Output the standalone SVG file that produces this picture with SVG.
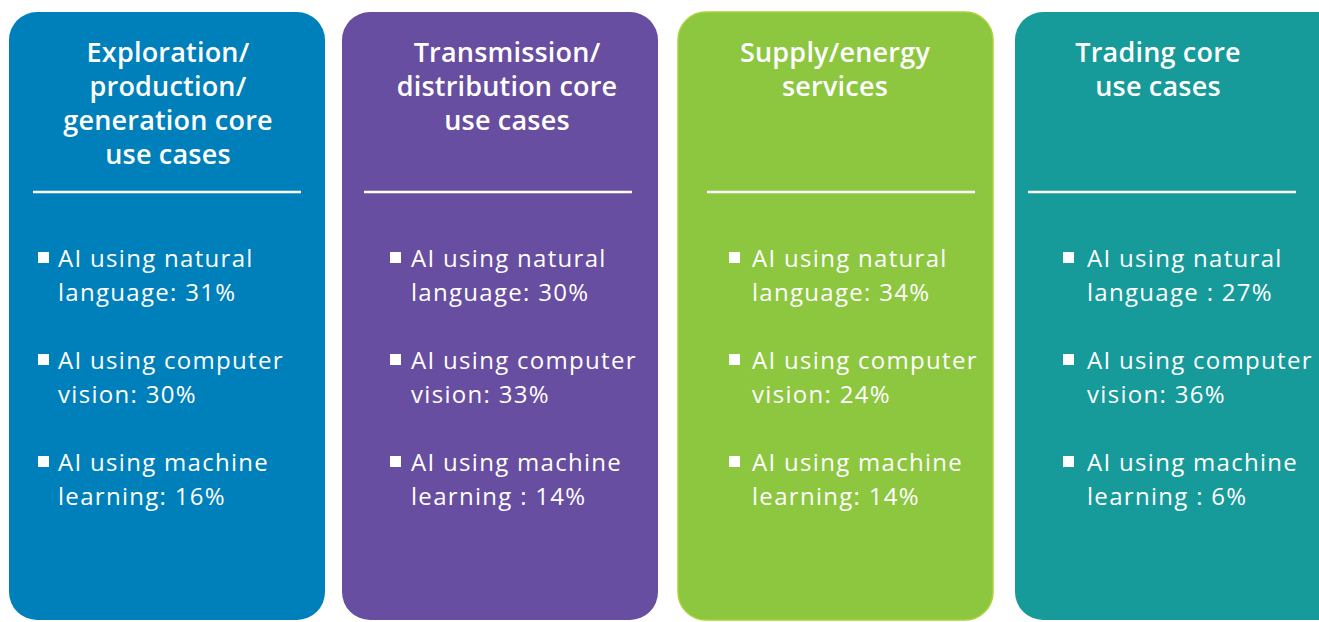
<svg xmlns="http://www.w3.org/2000/svg" width="1319" height="622" viewBox="0 0 1319 622">
<style>
.h{font-family:"Open Sans","Liberation Sans",sans-serif;font-size:27px;font-weight:600;fill:#fff;text-anchor:middle;letter-spacing:0.2px}
.t{font-family:"Open Sans","Liberation Sans",sans-serif;font-size:24px;fill:#fff;letter-spacing:1.3px}
.sep{stroke:#fff;stroke-width:2.5}
.b{fill:#fff}
</style>
<rect width="1319" height="622" fill="#fff"/>
<g id="box1">
<rect x="9" y="12" width="316" height="608" rx="28" fill="#0080BA"/>
<text class="h"><tspan x="168" y="62">Exploration/</tspan><tspan x="168" y="96">production/</tspan><tspan x="168" y="130">generation core</tspan><tspan x="168" y="164">use cases</tspan></text>
<line class="sep" x1="33" y1="192" x2="301" y2="192"/>
<rect class="b" x="38" y="252" width="11" height="11"/>
<rect class="b" x="38" y="354" width="11" height="11"/>
<rect class="b" x="38" y="456" width="11" height="11"/>
<text class="t"><tspan x="58" y="267">AI using natural</tspan><tspan x="58" y="301">language: 31%</tspan><tspan x="58" y="369">AI using computer</tspan><tspan x="58" y="403">vision: 30%</tspan><tspan x="58" y="471">AI using machine</tspan><tspan x="58" y="505">learning: 16%</tspan></text>
</g>
<g id="box2">
<rect x="342" y="12" width="316" height="608" rx="28" fill="#684EA0"/>
<text class="h"><tspan x="507" y="62">Transmission/</tspan><tspan x="507" y="96">distribution core</tspan><tspan x="507" y="130">use cases</tspan></text>
<line class="sep" x1="364" y1="192" x2="632" y2="192"/>
<rect class="b" x="390" y="252" width="11" height="11"/>
<rect class="b" x="390" y="354" width="11" height="11"/>
<rect class="b" x="390" y="456" width="11" height="11"/>
<text class="t"><tspan x="411" y="267">AI using natural</tspan><tspan x="411" y="301">language: 30%</tspan><tspan x="411" y="369">AI using computer</tspan><tspan x="411" y="403">vision: 33%</tspan><tspan x="411" y="471">AI using machine</tspan><tspan x="411" y="505">learning : 14%</tspan></text>
</g>
<g id="box3">
<rect x="678" y="12" width="315" height="608" rx="28" fill="#8DC63F" stroke="#A8D33A" stroke-width="1.5"/>
<text class="h"><tspan x="835" y="62">Supply/energy</tspan><tspan x="835" y="96">services</tspan></text>
<line class="sep" x1="707" y1="192" x2="975" y2="192"/>
<rect class="b" x="729" y="252" width="11" height="11"/>
<rect class="b" x="729" y="354" width="11" height="11"/>
<rect class="b" x="729" y="456" width="11" height="11"/>
<text class="t"><tspan x="752" y="267">AI using natural</tspan><tspan x="752" y="301">language: 34%</tspan><tspan x="752" y="369">AI using computer</tspan><tspan x="752" y="403">vision: 24%</tspan><tspan x="752" y="471">AI using machine</tspan><tspan x="752" y="505">learning: 14%</tspan></text>
</g>
<g id="box4">
<rect x="1015" y="12" width="330" height="608" rx="28" fill="#169A9A"/>
<text class="h"><tspan x="1158" y="62">Trading core</tspan><tspan x="1158" y="96">use cases</tspan></text>
<line class="sep" x1="1028" y1="192" x2="1296" y2="192"/>
<rect class="b" x="1063" y="252" width="11" height="11"/>
<rect class="b" x="1063" y="354" width="11" height="11"/>
<rect class="b" x="1063" y="456" width="11" height="11"/>
<text class="t"><tspan x="1087" y="267">AI using natural</tspan><tspan x="1087" y="301">language : 27%</tspan><tspan x="1087" y="369">AI using computer</tspan><tspan x="1087" y="403">vision: 36%</tspan><tspan x="1087" y="471">AI using machine</tspan><tspan x="1087" y="505">learning : 6%</tspan></text>
</g>
<g id="connectors"></g>
</svg>
